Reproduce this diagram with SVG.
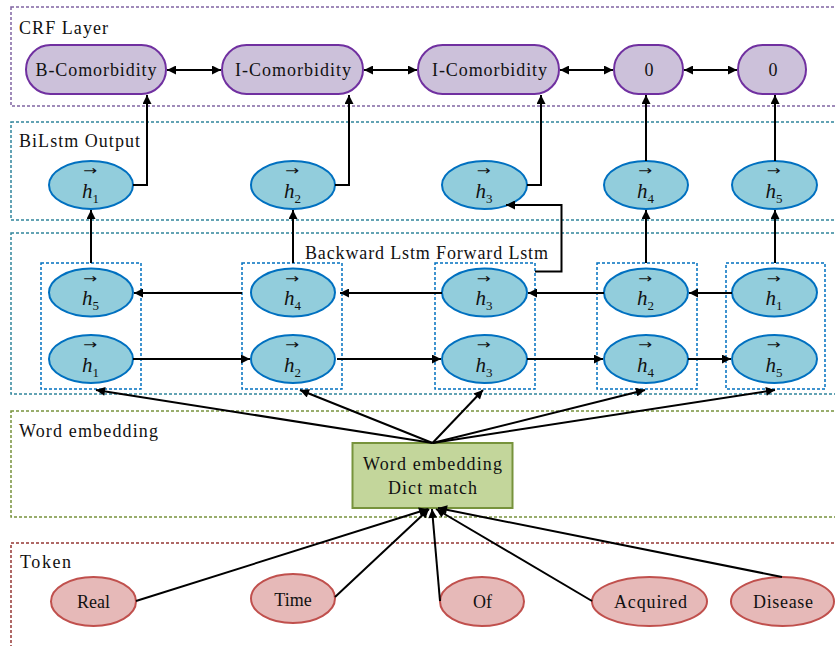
<svg xmlns="http://www.w3.org/2000/svg" width="835" height="646" viewBox="0 0 835 646">
<style>
text{font-family:"Liberation Serif","Times New Roman",serif;fill:#111}
.lbl{font-size:18px}
.frame{fill:none;stroke-width:1.5;stroke-dasharray:3 2}
.crf{fill:#ccc1da;stroke:#7030a0;stroke-width:2}
.hn{fill:#92cddc;stroke:#0070c0;stroke-width:2}
.tok{fill:#e6b9b8;stroke:#c0504d;stroke-width:2}
.sub{fill:none;stroke:#0070c0;stroke-width:1.5;stroke-dasharray:3 2}
.h{font-size:21px;font-style:italic}
.s{font-size:13px;font-style:normal}
text.ar{font-family:"DejaVu Sans",sans-serif;font-size:13px}
.c line,.c polyline{stroke:#000;stroke-width:2;fill:none}
</style>
<defs>
<marker id="a" viewBox="0 0 10 10" refX="10" refY="5" markerWidth="11" markerHeight="9" markerUnits="userSpaceOnUse" orient="auto-start-reverse"><path d="M0,0 L10,5 L0,10 z" fill="#000"/></marker>
</defs>

<!-- frames -->
<g id="frames">
<rect class="frame" x="11" y="7" width="840" height="99" stroke="#8064a2"/>
<rect class="frame" x="11" y="122" width="840" height="98" stroke="#31859c"/>
<rect class="frame" x="11" y="233" width="840" height="161" stroke="#31859c"/>
<rect class="frame" x="11" y="411" width="840" height="106" stroke="#77933c"/>
<rect class="frame" x="11" y="543" width="840" height="120" stroke="#953735"/>
<text class="lbl" x="19" y="34" textLength="89" lengthAdjust="spacing">CRF Layer</text>
<text class="lbl" x="19" y="147" textLength="121" lengthAdjust="spacing">BiLstm Output</text>
<text class="lbl" x="19" y="437" textLength="139" lengthAdjust="spacing">Word embedding</text>
<text class="lbl" x="20" y="568" textLength="51" lengthAdjust="spacing">Token</text>
<text class="lbl" x="305" y="259" textLength="243" lengthAdjust="spacing">Backward Lstm Forward Lstm</text>
</g>

<!-- CRF nodes -->
<g id="crf1"><rect class="crf" x="26" y="45" width="140" height="49" rx="24.5"/><text class="lbl" x="96" y="76" text-anchor="middle" textLength="121" lengthAdjust="spacing">B-Comorbidity</text></g>
<g id="crf2"><rect class="crf" x="222" y="45" width="141" height="49" rx="24.5"/><text class="lbl" x="293" y="76" text-anchor="middle" textLength="116" lengthAdjust="spacing">I-Comorbidity</text></g>
<g id="crf3"><rect class="crf" x="418" y="45" width="141" height="49" rx="24.5"/><text class="lbl" x="489.5" y="76" text-anchor="middle" textLength="115" lengthAdjust="spacing">I-Comorbidity</text></g>
<g id="crf4"><rect class="crf" x="614" y="45" width="69" height="49" rx="24.5"/><text class="lbl" x="649" y="76" text-anchor="middle">0</text></g>
<g id="crf5"><rect class="crf" x="738" y="45" width="68" height="49" rx="24.5"/><text class="lbl" x="773" y="76" text-anchor="middle">0</text></g>

<!-- BiLstm output -->
<g id="o1"><ellipse class="hn" cx="91" cy="185" rx="42" ry="24"/><text class="ar" x="83" y="175" textLength="14" lengthAdjust="spacingAndGlyphs">→</text><text class="h" x="82" y="197.5">h<tspan class="s" dy="5">1</tspan></text></g>
<g id="o2"><ellipse class="hn" cx="293" cy="185" rx="42" ry="24"/><text class="ar" x="285" y="175" textLength="14" lengthAdjust="spacingAndGlyphs">→</text><text class="h" x="284" y="197.5">h<tspan class="s" dy="5">2</tspan></text></g>
<g id="o3"><ellipse class="hn" cx="484.5" cy="185" rx="42.5" ry="24"/><text class="ar" x="476.5" y="175" textLength="14" lengthAdjust="spacingAndGlyphs">→</text><text class="h" x="475.5" y="197.5">h<tspan class="s" dy="5">3</tspan></text></g>
<g id="o4"><ellipse class="hn" cx="646" cy="185" rx="42" ry="24"/><text class="ar" x="638" y="175" textLength="14" lengthAdjust="spacingAndGlyphs">→</text><text class="h" x="637" y="197.5">h<tspan class="s" dy="5">4</tspan></text></g>
<g id="o5"><ellipse class="hn" cx="774.5" cy="185" rx="42.5" ry="24"/><text class="ar" x="766.5" y="175" textLength="14" lengthAdjust="spacingAndGlyphs">→</text><text class="h" x="765.5" y="197.5">h<tspan class="s" dy="5">5</tspan></text></g>

<!-- LSTM columns -->
<g id="col1"><rect class="sub" x="41" y="263" width="100" height="126"/>
<ellipse class="hn" cx="91" cy="292.5" rx="42" ry="24"/><text class="ar" x="83" y="282.5" textLength="14" lengthAdjust="spacingAndGlyphs">→</text><text class="h" x="82" y="305">h<tspan class="s" dy="5">5</tspan></text>
<ellipse class="hn" cx="91" cy="359" rx="42" ry="24"/><text class="ar" x="83" y="349" textLength="14" lengthAdjust="spacingAndGlyphs">→</text><text class="h" x="82" y="371.5">h<tspan class="s" dy="5">1</tspan></text></g>
<g id="col2"><rect class="sub" x="242" y="263" width="100" height="126"/>
<ellipse class="hn" cx="293" cy="292.5" rx="42" ry="24"/><text class="ar" x="285" y="282.5" textLength="14" lengthAdjust="spacingAndGlyphs">→</text><text class="h" x="284" y="305">h<tspan class="s" dy="5">4</tspan></text>
<ellipse class="hn" cx="293" cy="359" rx="42" ry="24"/><text class="ar" x="285" y="349" textLength="14" lengthAdjust="spacingAndGlyphs">→</text><text class="h" x="284" y="371.5">h<tspan class="s" dy="5">2</tspan></text></g>
<g id="col3"><rect class="sub" x="435" y="263" width="100" height="126"/>
<ellipse class="hn" cx="484.5" cy="292.5" rx="42.5" ry="24"/><text class="ar" x="476.5" y="282.5" textLength="14" lengthAdjust="spacingAndGlyphs">→</text><text class="h" x="475.5" y="305">h<tspan class="s" dy="5">3</tspan></text>
<ellipse class="hn" cx="484.5" cy="359" rx="42.5" ry="24"/><text class="ar" x="476.5" y="349" textLength="14" lengthAdjust="spacingAndGlyphs">→</text><text class="h" x="475.5" y="371.5">h<tspan class="s" dy="5">3</tspan></text></g>
<g id="col4"><rect class="sub" x="597" y="263" width="100" height="126"/>
<ellipse class="hn" cx="646" cy="292.5" rx="42" ry="24"/><text class="ar" x="638" y="282.5" textLength="14" lengthAdjust="spacingAndGlyphs">→</text><text class="h" x="637" y="305">h<tspan class="s" dy="5">2</tspan></text>
<ellipse class="hn" cx="646" cy="359" rx="42" ry="24"/><text class="ar" x="638" y="349" textLength="14" lengthAdjust="spacingAndGlyphs">→</text><text class="h" x="637" y="371.5">h<tspan class="s" dy="5">4</tspan></text></g>
<g id="col5"><rect class="sub" x="726" y="263" width="99" height="126"/>
<ellipse class="hn" cx="774.5" cy="292.5" rx="42.5" ry="24"/><text class="ar" x="766.5" y="282.5" textLength="14" lengthAdjust="spacingAndGlyphs">→</text><text class="h" x="765.5" y="305">h<tspan class="s" dy="5">1</tspan></text>
<ellipse class="hn" cx="774.5" cy="359" rx="42.5" ry="24"/><text class="ar" x="766.5" y="349" textLength="14" lengthAdjust="spacingAndGlyphs">→</text><text class="h" x="765.5" y="371.5">h<tspan class="s" dy="5">5</tspan></text></g>

<!-- Word embedding -->
<g id="emb"><rect x="352.5" y="443" width="160" height="65" fill="#c3d69b" stroke="#77933c" stroke-width="2"/>
<text class="lbl" x="432.5" y="470" text-anchor="middle" textLength="139" lengthAdjust="spacing">Word embedding</text>
<text class="lbl" x="432.5" y="494" text-anchor="middle" textLength="89" lengthAdjust="spacing">Dict match</text></g>

<!-- Tokens -->
<g id="t1"><ellipse class="tok" cx="93.5" cy="601.5" rx="42.5" ry="24.5"/><text class="lbl" x="93.5" y="608" text-anchor="middle">Real</text></g>
<g id="t2"><ellipse class="tok" cx="293" cy="598.5" rx="42" ry="24.5"/><text class="lbl" x="293" y="606" text-anchor="middle">Time</text></g>
<g id="t3"><ellipse class="tok" cx="482" cy="601.5" rx="42" ry="24.5"/><text class="lbl" x="482.5" y="608" text-anchor="middle">Of</text></g>
<g id="t4"><ellipse class="tok" cx="649.5" cy="601.5" rx="57.5" ry="24.5"/><text class="lbl" x="650.5" y="608" text-anchor="middle" textLength="73" lengthAdjust="spacing">Acquired</text></g>
<g id="t5"><ellipse class="tok" cx="782.5" cy="601.5" rx="51.5" ry="24.5"/><text class="lbl" x="783" y="608" text-anchor="middle" textLength="60" lengthAdjust="spacing">Disease</text></g>

<!-- connectors -->
<g class="c" id="connectors">
<line x1="167" y1="70" x2="221" y2="70" marker-start="url(#a)" marker-end="url(#a)"/>
<line x1="364" y1="70" x2="417" y2="70" marker-start="url(#a)" marker-end="url(#a)"/>
<line x1="560" y1="70" x2="613" y2="70" marker-start="url(#a)" marker-end="url(#a)"/>
<line x1="684" y1="70" x2="737" y2="70" marker-start="url(#a)" marker-end="url(#a)"/>

<polyline points="133,185 147,185 147,95" marker-end="url(#a)"/>
<polyline points="335,185 349,185 349,95" marker-end="url(#a)"/>
<polyline points="527,185 541,185 541,95" marker-end="url(#a)"/>
<line x1="646" y1="161" x2="646" y2="95" marker-end="url(#a)"/>
<line x1="775" y1="161" x2="775" y2="95" marker-end="url(#a)"/>

<line x1="91" y1="263" x2="91" y2="210" marker-end="url(#a)"/>
<line x1="293" y1="263" x2="293" y2="210" marker-end="url(#a)"/>
<polyline points="535,271.5 561.5,271.5 561.5,205 506,205" marker-end="url(#a)"/>
<line x1="646" y1="263" x2="646" y2="210" marker-end="url(#a)"/>
<line x1="775" y1="263" x2="775" y2="210" marker-end="url(#a)"/>

<line x1="732" y1="293" x2="689" y2="293" marker-end="url(#a)"/>
<line x1="604" y1="293" x2="528" y2="293" marker-end="url(#a)"/>
<line x1="442" y1="293" x2="340" y2="293" marker-end="url(#a)"/>
<line x1="242" y1="293" x2="134" y2="293" marker-end="url(#a)"/>

<line x1="133" y1="359" x2="250" y2="359" marker-end="url(#a)"/>
<line x1="337" y1="359" x2="441" y2="359" marker-end="url(#a)"/>
<line x1="527" y1="359" x2="603" y2="359" marker-end="url(#a)"/>
<line x1="688" y1="359" x2="731" y2="359" marker-end="url(#a)"/>

<line x1="432.5" y1="443" x2="96" y2="390" marker-end="url(#a)"/>
<line x1="432.5" y1="443" x2="300" y2="390" marker-end="url(#a)"/>
<line x1="432.5" y1="443" x2="483" y2="390" marker-end="url(#a)"/>
<line x1="432.5" y1="443" x2="645" y2="390" marker-end="url(#a)"/>
<line x1="432.5" y1="443" x2="775" y2="390" marker-end="url(#a)"/>

<line x1="136" y1="601" x2="428" y2="509" marker-end="url(#a)"/>
<line x1="335" y1="597" x2="429" y2="509" marker-end="url(#a)"/>
<line x1="440" y1="601" x2="432" y2="509" marker-end="url(#a)"/>
<line x1="592" y1="601" x2="436" y2="509" marker-end="url(#a)"/>
<line x1="782" y1="577" x2="438" y2="508" marker-end="url(#a)"/>
</g>
</svg>
